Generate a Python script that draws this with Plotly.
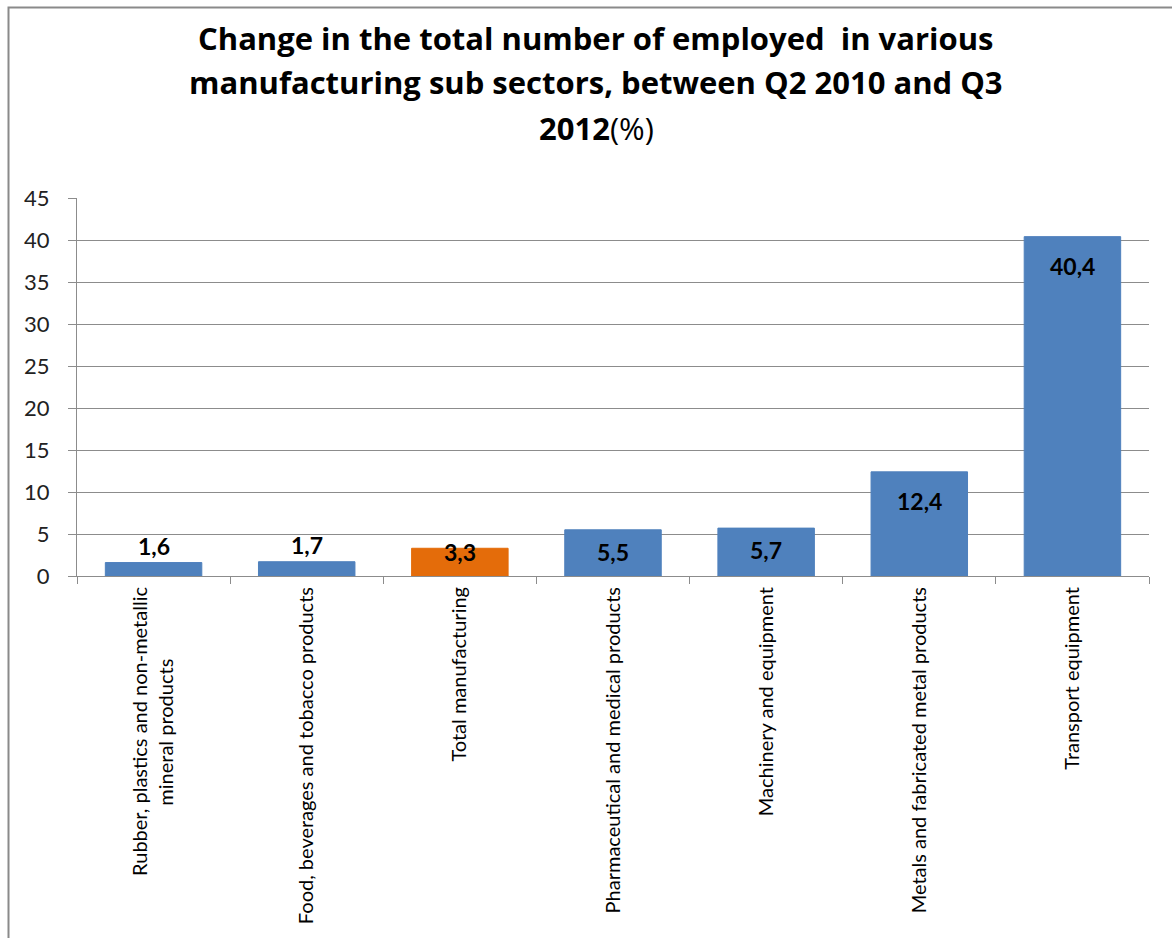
import plotly.graph_objects as go

categories = [
    "Rubber, plastics and non-metallic mineral products",
    "Food, beverages and tobacco products",
    "Total manufacturing",
    "Pharmaceutical and medical products",
    "Machinery and equipment",
    "Metals and fabricated metal products",
    "Transport equipment",
]
tick_labels = [
    "Rubber, plastics and non-metallic<br>mineral products" + "&nbsp;" * 14,
    "Food, beverages and tobacco products",
    "Total manufacturing",
    "Pharmaceutical and medical products",
    "Machinery and equipment",
    "Metals and fabricated metal products",
    "Transport equipment",
]
values = [1.6, 1.7, 3.3, 5.5, 5.7, 12.4, 40.4]
highlight = "Total manufacturing"
y_ticks = [0, 5, 10, 15, 20, 25, 30, 35, 40, 45]
title_lines = [
    "<b>Change in the total number of employed  in various</b>",
    "<b>manufacturing sub sectors, between Q2 2010 and Q3</b>",
    "<b>2012</b>(%)",
]

BLUE = "#4F81BD"
ORANGE = "#E46C0A"
FONT = "Lato"
TFONT = "Open Sans"
GRID = "#8C8C8C"

colors = [ORANGE if c == highlight else BLUE for c in categories]

fig = go.Figure(
    go.Bar(
        x=categories,
        y=values,
        marker=dict(color=colors, line=dict(color=colors, width=1)),
        width=0.63,
        hoverinfo="x+y",
    )
)

# data labels (Excel "inside end" style, pushed above very short bars)
for c, v in zip(categories, values):
    txt = f"{v:.1f}".replace(".", ",")
    if v >= 10:
        ys = -29
    elif v >= 5:
        ys = -22
    elif v >= 3:
        ys = -4
    else:
        ys = 17
    fig.add_annotation(
        x=c, y=v, text=f"<b>{txt}</b>", showarrow=False,
        yanchor="middle", yshift=ys, xanchor="center",
        font=dict(family=FONT, size=23, color="#000000"),
    )

# title lines
title_y = [38, 82, 128]
for line, yp in zip(title_lines, title_y):
    fig.add_annotation(
        xref="paper", yref="paper",
        x=(596 - 77) / 1072, y=(576 - yp) / 378,
        text=line, showarrow=False, xanchor="center", yanchor="middle",
        font=dict(family=TFONT, size=31, color="#000000"),
    )

# outer chart border (extends past the window on right and bottom)
fig.add_shape(
    type="rect", xref="paper", yref="paper",
    x0=(8.5 - 77) / 1072, x1=(1185 - 77) / 1072,
    y0=(576 - 950) / 378, y1=(576 - 7.5) / 378,
    line=dict(color="#8A8A8A", width=2), fillcolor="rgba(0,0,0,0)",
    layer="below",
)

fig.update_layout(
    width=1172, height=938,
    margin=dict(l=77, r=23, t=198, b=362),
    paper_bgcolor="white", plot_bgcolor="white",
    showlegend=False,
    font=dict(family=FONT, color="#000000"),
)
fig.update_xaxes(
    showgrid=False, showline=True, linecolor=GRID, linewidth=1,
    ticks="outside", tickson="boundaries", ticklen=7, tickcolor=GRID,
    tickmode="array", tickvals=categories, ticktext=tick_labels,
    tickangle=-90, tickfont=dict(family=FONT, size=20, color="#000000"),
    ticklabelstandoff=2,
)
fig.update_yaxes(
    range=[0, 45], tickvals=y_ticks, showgrid=True, gridcolor=GRID, gridwidth=1,
    showline=True, linecolor=GRID, linewidth=1,
    ticks="outside", ticklen=8, tickcolor=GRID,
    tickfont=dict(family=FONT, size=22, color="#222222"),
    ticklabelstandoff=14, zeroline=False,
)

fig.write_html("out.html")
